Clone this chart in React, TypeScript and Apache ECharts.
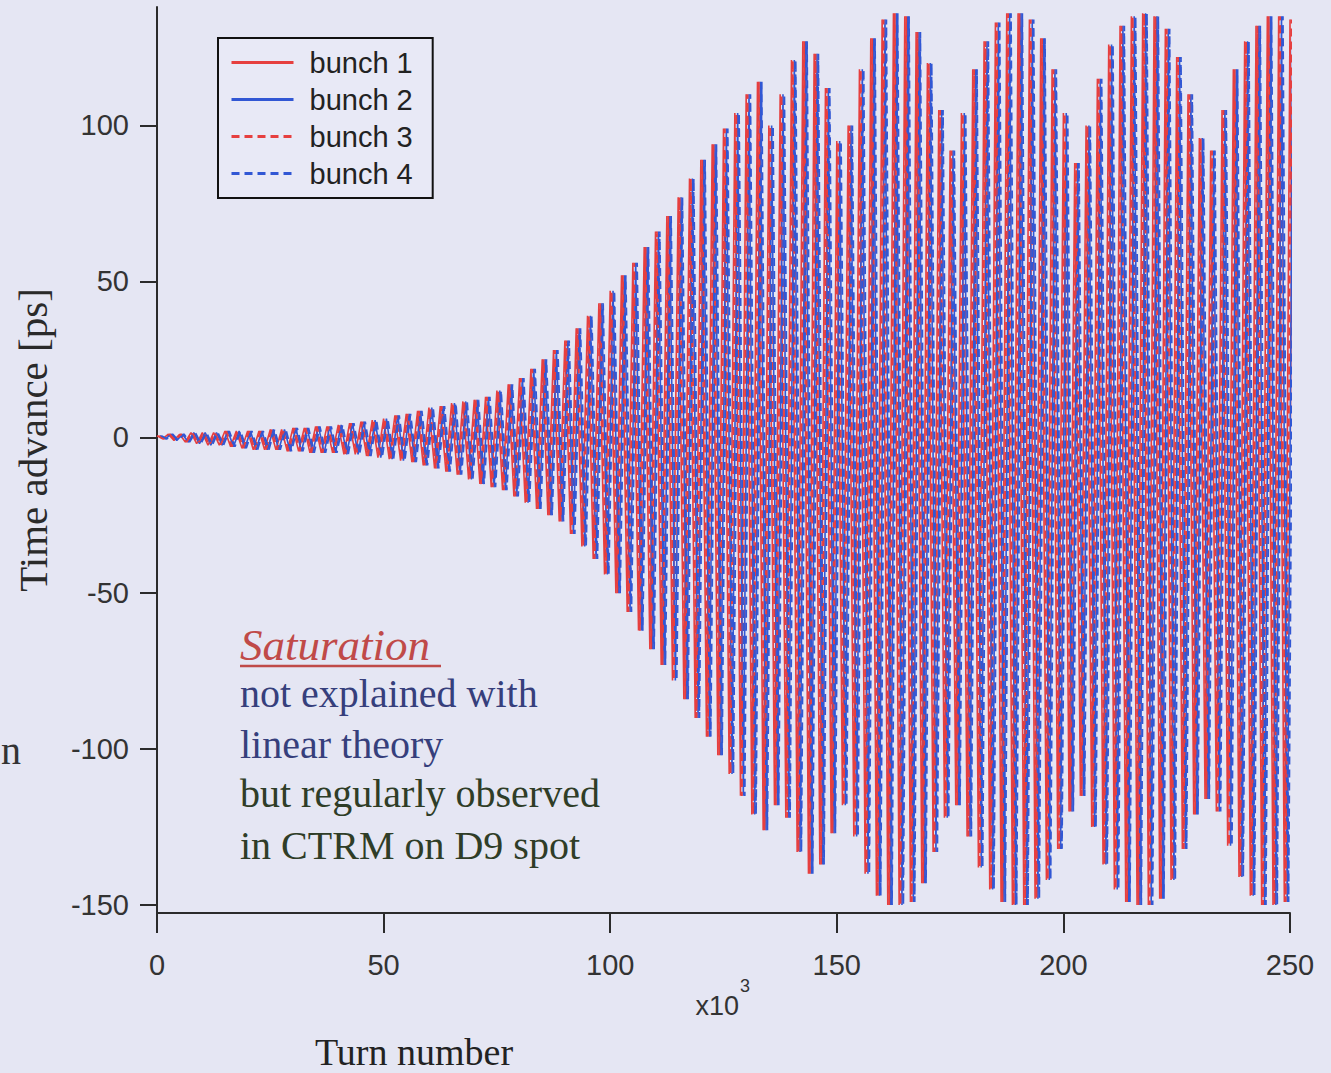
import React, { useEffect, useRef } from "react";
import * as echarts from "echarts";

// ---- data (turn number in units of 10^3, time advance in ps) ----
const sampleStepK = 2.5; // one oscillation period per sample
const halfPeriodK = 1.25;
// upper envelope (crest of each oscillation), read every 2.5k turns from 0 to 250k
const upperEnv = [
  0.5, 1, 1, 1.5, 1.5, 1.5, 2, 2, 2, 2,
  2.5, 2.5, 3, 3, 3.5, 3.5, 4, 4.5, 5, 5.5,
  6, 7, 7.5, 8.5, 9.5, 10, 11, 11.5, 12, 13,
  15, 17, 19, 22, 25, 28, 31, 35, 39, 43,
  47, 52, 56, 61, 66, 71, 77, 83, 89, 94,
  99, 104, 110, 114, 100, 110, 121, 127, 123, 112,
  95, 100, 118, 128, 134, 136, 135, 130, 120, 105,
  92, 104, 118, 127, 133, 136, 136, 134, 128, 118,
  104, 88, 100, 115, 126, 132, 135, 136, 135, 131,
  122, 110, 96, 92, 105, 118, 127, 132, 135, 135,
  134,
];
// lower envelope (trough of each oscillation), same sampling
const lowerEnv = [
  -0.5, -1, -1.5, -2, -2.5, -2.5, -3, -3.5, -4, -4,
  -4, -4.5, -4.5, -5, -5, -5, -5.5, -5.5, -6, -6.5,
  -7, -7.5, -8, -9, -10, -11, -12, -13.5, -15, -16,
  -17, -19, -21, -23, -25, -27, -31, -35, -39, -44,
  -50, -56, -62, -68, -73, -78, -84, -90, -96, -102,
  -108, -115, -121, -126, -118, -122, -133, -140, -137, -127,
  -118, -128, -140, -147, -150, -150, -149, -143, -133, -122,
  -118, -128, -138, -145, -149, -150, -150, -148, -142, -132,
  -120, -115, -125, -137, -145, -149, -150, -150, -148, -142,
  -132, -121, -116, -120, -131, -141, -147, -150, -150, -149,
  -143,
];

const bunchNames = ["bunch 1", "bunch 2", "bunch 3", "bunch 4"];
const bunchColors = ["#e63f3f", "#3157d4", "#e63f3f", "#3157d4"];
const bunchDashed = [false, false, true, true];
const bunchOffsetK = [0, 0.625, 0.3, 0.925];

const xTicks = [0, 50, 100, 150, 200, 250];
const yTicks = [-150, -100, -50, 0, 50, 100];

const noteLines = [
  { text: "Saturation", color: "#c04a48", italic: true },
  { text: "not explained with", color: "#363f7c", italic: false },
  { text: "linear theory", color: "#363f7c", italic: false },
  { text: "but regularly observed", color: "#2f3d27", italic: false },
  { text: "in CTRM on D9 spot", color: "#2f3d27", italic: false },
];

const SANS = '"Liberation Sans", Arial, Helvetica, sans-serif';
const SERIF = '"Liberation Serif", "Times New Roman", serif';

export default function App() {
  const ref = useRef<HTMLDivElement>(null);

  useEffect(() => {
    document.body.style.margin = "0";
    if (!ref.current) return;
    const chart = echarts.init(ref.current, undefined, { renderer: "svg" });

    const series = bunchNames.map((name, b) => {
      const data: number[][] = [];
      upperEnv.forEach((u, i) => {
        const t = i * sampleStepK + bunchOffsetK[b];
        data.push([t, u]);
        data.push([t + halfPeriodK, lowerEnv[i]]);
      });
      return {
        name,
        type: "line",
        symbol: "none",
        showSymbol: false,
        silent: true,
        clip: true,
        data,
        lineStyle: {
          color: bunchColors[b],
          width: bunchDashed[b] ? 1.9 : 1.6,
          type: bunchDashed[b] ? [8, 5] : "solid",
        },
        itemStyle: { color: bunchColors[b] },
      };
    });

    const baselines = [660, 707, 758, 807, 859];
    const noteTexts = noteLines.map((l, i) => ({
      type: "text",
      x: 240,
      y: baselines[i] - (l.italic ? 15 : 13.5),
      style: {
        text: l.text,
        fill: l.color,
        font: `${l.italic ? "italic " : ""}${l.italic ? 45 : 40}px ${SERIF}`,
        textAlign: "left",
        textVerticalAlign: "middle",
        align: "left",
        verticalAlign: "middle",
      },
    }));

    const option: any = {
      animation: false,
      backgroundColor: "#e5e6f3",
      grid: { left: 157, right: 41, top: 7, bottom: 168, containLabel: false },
      xAxis: {
        type: "value",
        min: 0,
        max: 250,
        interval: 50,
        offset: 8,
        axisLine: { show: true, onZero: false, lineStyle: { color: "#2b2b2b", width: 2 } },
        axisTick: { show: true, length: 20, lineStyle: { color: "#2b2b2b", width: 2 } },
        axisLabel: {
          margin: 37,
          fontSize: 29,
          color: "#333",
          fontFamily: SANS,
          customValues: xTicks,
        },
        splitLine: { show: false },
      },
      yAxis: {
        type: "value",
        min: -150,
        max: 138,
        axisLine: { show: true, onZero: false, lineStyle: { color: "#2b2b2b", width: 2 } },
        axisTick: {
          show: true,
          length: 17,
          customValues: yTicks,
          lineStyle: { color: "#2b2b2b", width: 2 },
        },
        axisLabel: {
          margin: 28,
          fontSize: 29,
          color: "#333",
          fontFamily: SANS,
          customValues: yTicks,
          formatter: (v: number) => (v % 50 === 0 ? String(v) : ""),
        },
        splitLine: { show: false },
      },
      legend: {
        show: true,
        orient: "vertical",
        left: 218,
        top: 38,
        selectedMode: false,
        data: bunchNames,
        itemWidth: 62,
        itemHeight: 14,
        itemGap: 8,
        padding: [10, 20, 10, 12],
        borderColor: "#111",
        borderWidth: 2,
        backgroundColor: "#e8e9f6",
        itemStyle: { opacity: 0 },
        lineStyle: { width: 3 },
        textStyle: {
          fontSize: 29,
          lineHeight: 28,
          color: "#222",
          fontFamily: SANS,
          padding: [0, 0, 0, 11],
        },
      },
      series,
      graphic: [
        {
          type: "line",
          silent: true,
          shape: { x1: 157, y1: 904, x2: 157, y2: 914 },
          style: { stroke: "#2b2b2b", lineWidth: 2 },
        },
        {
          type: "text",
          x: 33,
          y: 440,
          rotation: Math.PI / 2,
          style: {
            text: "Time advance [ps]",
            fill: "#2a2a2a",
            font: `41px ${SERIF}`,
            textAlign: "center",
            textVerticalAlign: "middle",
            align: "center",
            verticalAlign: "middle",
          },
        },
        {
          type: "text",
          x: 414,
          y: 1052,
          style: {
            text: "Turn number",
            fill: "#222",
            font: `38px ${SERIF}`,
            textAlign: "center",
            textVerticalAlign: "middle",
            align: "center",
            verticalAlign: "middle",
          },
        },
        {
          type: "text",
          x: 739,
          y: 1006,
          style: {
            text: "x10",
            fill: "#333",
            font: `27px ${SANS}`,
            textAlign: "right",
            textVerticalAlign: "middle",
            align: "right",
            verticalAlign: "middle",
          },
        },
        {
          type: "text",
          x: 740,
          y: 986,
          style: {
            text: "3",
            fill: "#333",
            font: `18px ${SANS}`,
            textAlign: "left",
            textVerticalAlign: "middle",
            align: "left",
            verticalAlign: "middle",
          },
        },
        ...noteTexts,
        {
          type: "line",
          silent: true,
          shape: { x1: 240, y1: 666, x2: 441, y2: 666 },
          style: { stroke: "#c04a48", lineWidth: 2.5 },
        },
        {
          type: "text",
          x: 1,
          y: 750,
          style: {
            text: "n",
            fill: "#333",
            font: `40px ${SERIF}`,
            textAlign: "left",
            textVerticalAlign: "middle",
            align: "left",
            verticalAlign: "middle",
          },
        },
      ],
    };

    chart.setOption(option);
    return () => {
      chart.dispose();
    };
  }, []);

  return <div ref={ref} style={{ width: 1331, height: 1073 }} />;
}
